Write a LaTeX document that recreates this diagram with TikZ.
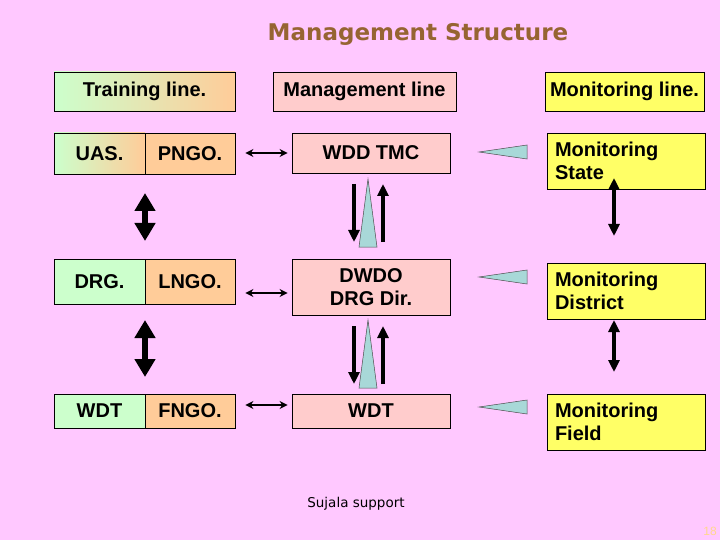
\documentclass[tikz,border=0pt]{standalone}
\usepackage{fontspec}
\setmainfont{Liberation Sans}
\newfontfamily\titlefont{DejaVu Sans}
\usetikzlibrary{arrows.meta}
\definecolor{bg}{RGB}{255,200,255}
\definecolor{grn}{RGB}{204,255,204}
\definecolor{org}{RGB}{255,204,153}
\definecolor{mgm}{RGB}{255,204,204}
\definecolor{yel}{RGB}{255,255,102}
\definecolor{teal1}{RGB}{168,216,216}
\definecolor{ttl}{RGB}{150,100,50}
\definecolor{pnum}{RGB}{255,215,140}
\begin{document}
\begin{tikzpicture}[x=1pt,y=-1pt,
  box/.style={draw=black, line width=0.8pt, inner sep=0pt, font=\fontsize{20}{23}\selectfont\bfseries, align=center},
  monbox/.style={box, fill=yel, minimum width=158, minimum height=56, text width=142, inner xsep=8pt, align=left},
  mgbox/.style={box, fill=mgm, minimum width=158},
  bigdbl/.style={line width=6pt, {Triangle[width=20pt,length=18pt]}-{Triangle[width=20pt,length=18pt]}},
  meddbl/.style={line width=3.5pt, {Triangle[width=11pt,length=12pt]}-{Triangle[width=11pt,length=12pt]}},
  medarr/.style={line width=3.5pt, -{Triangle[width=11pt,length=12pt]}},
  smalldbl/.style={line width=1.6pt, {Stealth[width=8pt,length=8pt]}-{Stealth[width=8pt,length=8pt]}},
  tealtri/.style={fill=teal1, draw=black!70, line width=0.5pt}
]
\fill[bg] (0,0) rectangle (720,540);
\useasboundingbox (0,0) rectangle (720,540);

% title
\node[font=\titlefont\fontsize{23}{26}\selectfont\bfseries, text=ttl] (title) at (418,34) {Management Structure};

% headers
\node[box, left color=grn, right color=org, minimum width=181, minimum height=39] (trl) at (144.5,91.5) {Training line.};
\node[mgbox, minimum width=183, minimum height=39] (mgl) at (364.5,91.5) {Management line};
\node[box, fill=yel, minimum width=159, minimum height=39] (mol) at (624.5,91.5) {Monitoring line.};

% training column
\node[box, left color=grn, right color=org, minimum width=91, minimum height=41] (uas) at (99.5,153.5) {UAS.};
\node[box, fill=org, minimum width=90, minimum height=41] (pngo) at (190,153.5) {PNGO.};
\node[box, fill=grn, minimum width=91, minimum height=45] (drg) at (99.5,281.5) {DRG.};
\node[box, fill=org, minimum width=90, minimum height=45] (lngo) at (190,281.5) {LNGO.};
\node[box, fill=grn, minimum width=91, minimum height=34] (wdtl) at (99.5,411) {WDT};
\node[box, fill=org, minimum width=90, minimum height=34] (fngo) at (190,411) {FNGO.};

% management column
\node[mgbox, minimum height=40] (wdd) at (371,153) {WDD TMC};
\node[mgbox, minimum height=56] (dwdo) at (371,287) {DWDO\\DRG Dir.};
\node[mgbox, minimum height=34] (wdtm) at (371,411) {WDT};

% monitoring column
\node[monbox] (mst) at (626,161) {Monitoring\\State};
\node[monbox] (mdi) at (626,291) {Monitoring\\District};
\node[monbox] (mfi) at (626,422) {Monitoring\\Field};

% left thick double arrows
\coordinate (la1) at (145,193);
\coordinate (lb1) at (145,241);
\coordinate (la2) at (145,320);
\coordinate (lb2) at (145,377);
\draw[bigdbl] (la1) -- (lb1);
\draw[bigdbl] (la2) -- (lb2);

% small double arrows
\draw[smalldbl, shorten <=10pt, shorten >=4pt] (pngo.east |- wdd.west) -- (wdd.west);
\draw[smalldbl, shorten <=10pt, shorten >=4pt] (lngo.east |- 0,293) -- (dwdo.west |- 0,293);
\draw[smalldbl, shorten <=10pt, shorten >=4pt] (fngo.east |- 0,405) -- (wdtm.west |- 0,405);

% management vertical arrows and triangles
\coordinate (d1a) at (354,184); \coordinate (d1b) at (354,242);
\coordinate (u1a) at (383,242); \coordinate (u1b) at (383,184);
\draw[medarr] (d1a) -- (d1b);
\draw[medarr] (u1a) -- (u1b);
\filldraw[tealtri] (368,179) -- (377,247) -- (359,247) -- cycle;
\coordinate (d2a) at (354,326); \coordinate (d2b) at (354,384);
\coordinate (u2a) at (383,384); \coordinate (u2b) at (383,326);
\draw[medarr] (d2a) -- (d2b);
\draw[medarr] (u2a) -- (u2b);
\filldraw[tealtri] (368,320) -- (377,388) -- (359,388) -- cycle;

% teal left-pointing triangles
\filldraw[tealtri] (479,152) -- (527,145) -- (527,159) -- cycle;
\filldraw[tealtri] (479,277) -- (527,270) -- (527,284) -- cycle;
\filldraw[tealtri] (479,407) -- (527,400) -- (527,414) -- cycle;

% monitoring double arrows
\coordinate (m1a) at (614,178); \coordinate (m1b) at (614,236);
\coordinate (m2a) at (614,320); \coordinate (m2b) at (614,372);
\draw[meddbl] (m1a) -- (m1b);
\draw[meddbl] (m2a) -- (m2b);

% footer
\node[font=\titlefont\fontsize{13.5}{16}\selectfont] (foot) at (356,504) {Sujala support};
\node[font=\fontsize{12}{14}\selectfont, text=pnum] (pg) at (710,531) {18};
\end{tikzpicture}
\end{document}
